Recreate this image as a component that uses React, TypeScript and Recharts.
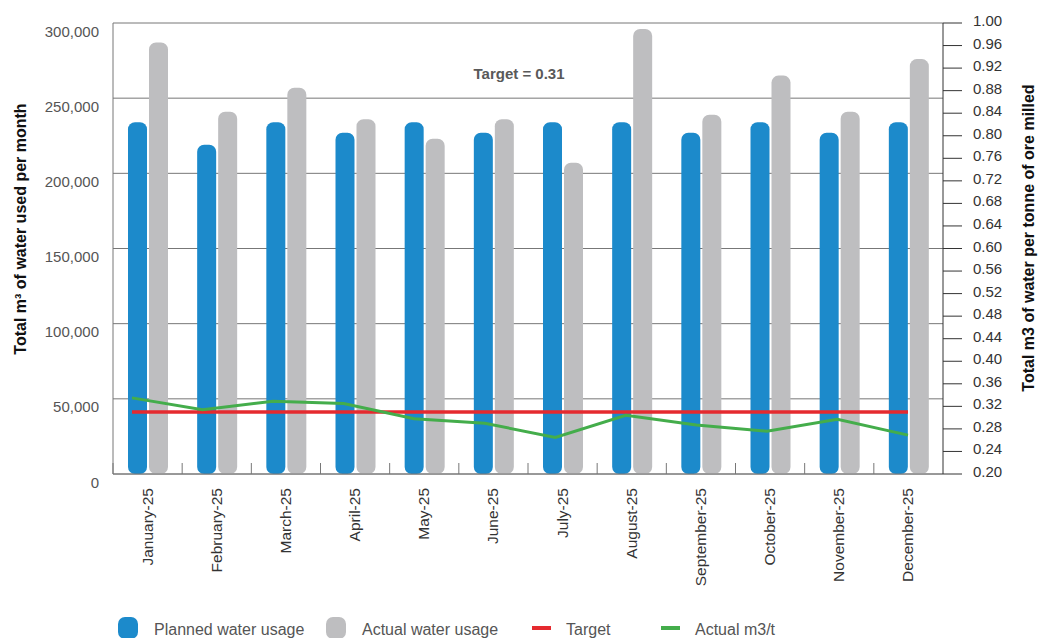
import { Bar, CartesianGrid, ComposedChart, Line, XAxis, YAxis } from "recharts";

const months = [
    "January-25", "February-25", "March-25", "April-25", "May-25", "June-25",
    "July-25", "August-25", "September-25", "October-25", "November-25", "December-25",
];
const plannedUsage = [234000, 219000, 234000, 227000, 234000, 227000, 234000, 234000, 227000, 234000, 227000, 234000];
const actualUsage = [287000, 241000, 257000, 236000, 223000, 236000, 207000, 296000, 239000, 265000, 241000, 276000];
const targetValue = 0.31;
const actualM3t = [0.335, 0.314, 0.329, 0.325, 0.298, 0.29, 0.265, 0.304, 0.287, 0.276, 0.297, 0.269];
const leftTicks = [0, 50000, 100000, 150000, 200000, 250000, 300000];
const rightTicks = [0.2, 0.24, 0.28, 0.32, 0.36, 0.4, 0.44, 0.48, 0.52, 0.56, 0.6, 0.64, 0.68, 0.72, 0.76, 0.8, 0.84, 0.88, 0.92, 0.96, 1.0];

const BLUE = "#1c8acb";
const GREY = "#bebec0";
const RED = "#e52a2f";
const GREEN = "#44ad4b";
const FONT = "'Liberation Sans', Arial, sans-serif";

const WIDTH = 1038;
const HEIGHT = 638;
const LEFT_W = 113;
const RIGHT_W = 95;
const STEP = (WIDTH - LEFT_W - RIGHT_W) / months.length;

const data = months.map((month, i) => ({
    month,
    planned: plannedUsage[i],
    actual: actualUsage[i],
    target: targetValue,
    m3t: actualM3t[i],
}));

const MonthTick = ({ x, y, payload }: any) => (
    <g>
        <line x1={x - STEP / 2} y1={y} x2={x - STEP / 2} y2={y - 11} stroke="#777" />
        <text
            x={x + 5}
            y={y + 14}
            transform={`rotate(-90, ${x + 5}, ${y + 14})`}
            textAnchor="end"
            fontSize={15.5}
            fill="#333"
            fontFamily={FONT}
        >
            {payload.value}
        </text>
    </g>
);

const LeftTick = ({ x, y, payload }: any) => (
    <text x={x - 14} y={y + 13.5} textAnchor="end" fontSize={15} fill="#555" fontFamily={FONT}>
        {payload.value.toLocaleString("en-US")}
    </text>
);

const RightTick = ({ x, y, payload }: any) => (
    <text x={x} y={y + 3} textAnchor="start" fontSize={15} fill="#333" fontFamily={FONT}>
        {payload.value.toFixed(2)}
    </text>
);

const legendItems = [
    { label: "Planned water usage", color: BLUE, kind: "box", left: 118 },
    { label: "Actual water usage", color: GREY, kind: "box", left: 326 },
    { label: "Target", color: RED, kind: "line", left: 532 },
    { label: "Actual m3/t", color: GREEN, kind: "line", left: 661 },
];

const App = () => {

    // render

    return (
        <div style={{ position: "absolute", left: 0, top: 0, width: WIDTH, height: HEIGHT, background: "#fff", fontFamily: FONT }}>
            <ComposedChart width={WIDTH} height={HEIGHT} data={data} margin={{ top: 23, right: 0, bottom: 0, left: 0 }} barGap={2}>
                <CartesianGrid yAxisId="left" xAxisId="cat" vertical={false} stroke="#777" />
                <XAxis
                    xAxisId="cat"
                    dataKey="month"
                    height={164}
                    interval={0}
                    tickLine={false}
                    tickSize={0}
                    tickMargin={0}
                    stroke="#777"
                    tick={<MonthTick />}
                />
                <XAxis xAxisId="pts" dataKey="month" scale="point" padding={{ left: 19, right: 35 }} hide />
                <YAxis
                    yAxisId="left"
                    width={LEFT_W}
                    domain={[0, 300000]}
                    ticks={leftTicks}
                    interval={0}
                    tickLine={false}
                    tickSize={0}
                    tickMargin={0}
                    stroke="#777"
                    tick={<LeftTick />}
                    label={{
                        content: ({ viewBox }: any) => {
                            const cx = viewBox.x + 26;
                            const cy = viewBox.y + 206;
                            return (
                                <text x={cx} y={cy} transform={`rotate(-90, ${cx}, ${cy})`} textAnchor="middle" fontSize={16} fontWeight="bold" fill="#111" fontFamily={FONT}>
                                    Total m³ of water used per month
                                </text>
                            );
                        },
                    }}
                />
                <YAxis
                    yAxisId="right"
                    orientation="right"
                    width={RIGHT_W}
                    domain={[0.2, 1]}
                    ticks={rightTicks}
                    interval={0}
                    tickSize={19}
                    tickMargin={11}
                    stroke="#333"
                    tick={<RightTick />}
                    label={{
                        content: ({ viewBox }: any) => {
                            const cx = viewBox.x + 91;
                            const cy = viewBox.y + 215;
                            return (
                                <text x={cx} y={cy} transform={`rotate(-90, ${cx}, ${cy})`} textAnchor="middle" fontSize={16} fontWeight="bold" fill="#111" fontFamily={FONT}>
                                    Total m3 of water per tonne of ore milled
                                </text>
                            );
                        },
                    }}
                />
                <Bar xAxisId="cat" yAxisId="left" dataKey="planned" fill={BLUE} barSize={19} radius={7} isAnimationActive={false} />
                <Bar xAxisId="cat" yAxisId="left" dataKey="actual" fill={GREY} barSize={19} radius={7} isAnimationActive={false} />
                <Line xAxisId="pts" yAxisId="right" type="linear" dataKey="target" stroke={RED} strokeWidth={3.5} dot={false} isAnimationActive={false} />
                <Line xAxisId="pts" yAxisId="right" type="linear" dataKey="m3t" stroke={GREEN} strokeWidth={3} dot={false} isAnimationActive={false} />
                <text x={519} y={79} textAnchor="middle" fontSize={15} fontWeight="bold" fill="#595959" fontFamily={FONT}>
                    Target = 0.31
                </text>
            </ComposedChart>
            {legendItems.map((item) => (
                <div key={item.label} style={{ position: "absolute", left: item.left, top: 616, height: 24, display: "flex", alignItems: "center", fontSize: 16, color: "#555" }}>
                    {item.kind === "box" ? (
                        <span style={{ width: 20, height: 22, borderRadius: 7, background: item.color, marginRight: 16 }} />
                    ) : (
                        <span style={{ width: 19, height: 3.5, background: item.color, marginRight: 15 }} />
                    )}
                    <span style={{ marginTop: 4 }}>{item.label}</span>
                </div>
            ))}
        </div>
    );
};

export default App;
